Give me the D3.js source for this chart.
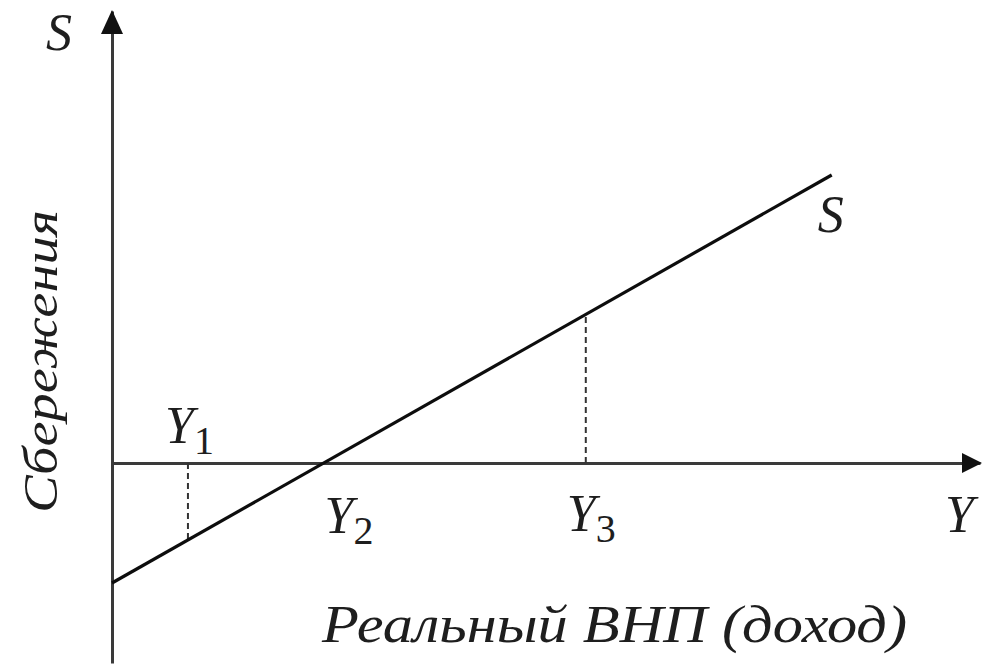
<!DOCTYPE html>
<html>
<head>
<meta charset="utf-8">
<script src="https://cdn.jsdelivr.net/npm/d3@7"></script>
<style>
  body { margin: 0; background: #fff; }
  svg { display: block; }
</style>
</head>
<body>
<svg id="chart" width="982" height="664"></svg>
<script>
// Savings function S against real GNP Y
const incomeDomain = [0, 12];
const savingsDomain = [-5, 11.3];

// S line end points
const lineIncome = [0, 9.95];
const lineSavings = [-3.0, 7.2];

// marked income levels Y1, Y2, Y3 and where their drop lines meet S
const levelIndex = ["1", "2", "3"];
const levelIncome = [1.05, 3.05, 6.55];
const levelSavings = [-2.0, 0, 3.75];

const axisTitleX = "Реальный ВНП (доход)";
const axisTitleY = "Сбережения";

const serif = "'Liberation Serif', serif";

const svg = d3.select("#chart");

const x = d3.scaleLinear().domain(incomeDomain).range([112, 980]);
const y = d3.scaleLinear().domain(savingsDomain).range([663, 11]);

const axisColor = "#3a3a3a";

// axes without ticks, crossing at zero
svg.append("g")
  .attr("transform", `translate(0,${y(0)})`)
  .call(d3.axisBottom(x).tickValues([]).tickSizeOuter(0));
svg.append("g")
  .attr("transform", `translate(${x(0)},0)`)
  .call(d3.axisLeft(y).tickValues([]).tickSizeOuter(0));

svg.selectAll(".domain")
  .attr("stroke", axisColor)
  .attr("stroke-width", 3);

// arrow heads
const xEnd = x(incomeDomain[1]);
const yTop = y(savingsDomain[1]);
svg.append("path")
  .attr("d", `M${xEnd + 2},${y(0)} L${xEnd - 18},${y(0) - 10} L${xEnd - 18},${y(0) + 10} Z`)
  .attr("fill", "#111");
svg.append("path")
  .attr("d", `M${x(0)},${yTop - 1} L${x(0) - 11},${yTop + 23} L${x(0) + 11},${yTop + 23} Z`)
  .attr("fill", "#111");

// dashed drop lines
const levels = levelIncome.map((v, i) => ({ name: levelIndex[i], income: v, savings: levelSavings[i] }));

svg.selectAll(".drop")
  .data(levels.filter((d) => d.savings !== 0))
  .enter()
  .append("line")
  .attr("class", "drop")
  .attr("x1", (d) => x(d.income))
  .attr("x2", (d) => x(d.income))
  .attr("y1", y(0))
  .attr("y2", (d) => y(d.savings))
  .attr("stroke", "#333")
  .attr("stroke-width", 2)
  .attr("stroke-dasharray", "6,4");

// savings line S
const lineData = lineIncome.map((v, i) => ({ income: v, savings: lineSavings[i] }));
svg.append("path")
  .datum(lineData)
  .attr("d", d3.line().x((d) => x(d.income)).y((d) => y(d.savings)))
  .attr("fill", "none")
  .attr("stroke", "#0d0d0d")
  .attr("stroke-width", 3.2);

const addText = (px, py, size, italic, str) =>
  svg.append("text")
    .attr("x", px)
    .attr("y", py)
    .attr("font-family", serif)
    .attr("font-size", size)
    .attr("font-style", italic ? "italic" : "normal")
    .attr("fill", "#1e1e1e")
    .text(str);

// Y_i labels: italic Y plus an upright subscript
const labelDx = [-23, -8, -19];
const labelBase = [443, 533, 531];
levels.forEach((d, i) => {
  const lx = x(d.income) + labelDx[i];
  addText(lx, labelBase[i], 52, true, "Y");
  addText(lx + 29, labelBase[i] + 11, 40, false, d.name);
});

// letters at the axes and the line
addText(x(0) - 66, 50, 52, true, "S");
addText(945, 532, 52, true, "Y");
addText(x(lineIncome[1]) - 14, y(lineSavings[1]) + 57, 52, true, "S");

// axis titles
addText(322, 642, 52, true, axisTitleX)
  .attr("textLength", 585)
  .attr("lengthAdjust", "spacingAndGlyphs");

addText(0, 0, 48, true, axisTitleY)
  .attr("transform", "translate(57,513) rotate(-90)")
  .attr("textLength", 303)
  .attr("lengthAdjust", "spacingAndGlyphs");
</script>
</body>
</html>
